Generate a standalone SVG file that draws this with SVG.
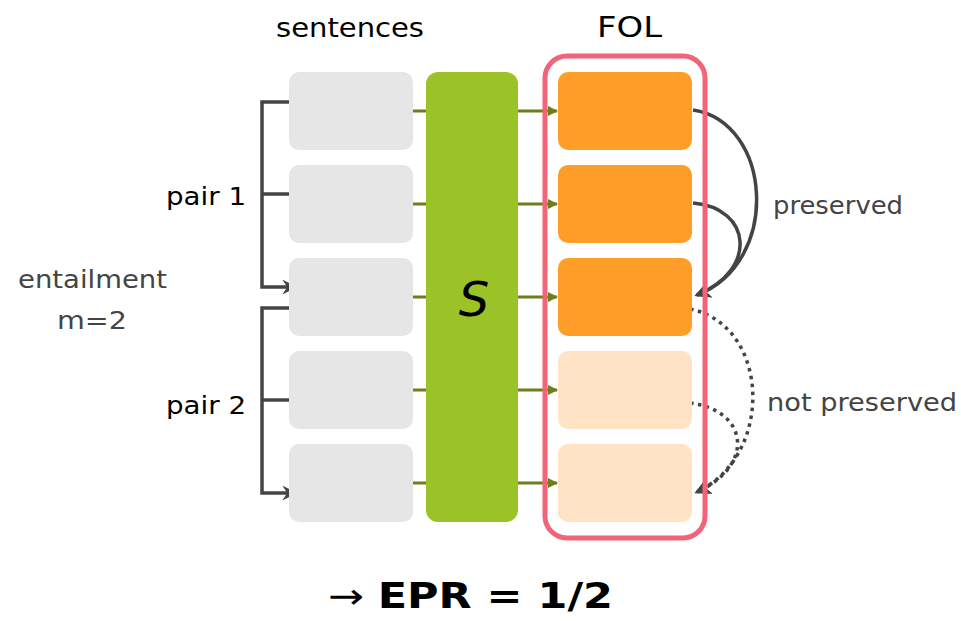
<svg xmlns="http://www.w3.org/2000/svg" width="961" height="621" viewBox="0 0 961 621">
  <style>
    .lbl { font-family: "DejaVu Sans", "Noto Sans", sans-serif; }
    .sent { fill: #e6e6e6; }
    .fol { fill: #fe9e28; }
    .fol-weak { fill: #ffe3c4; }
    .feed { stroke: #6b7f1a; stroke-width: 3; fill: none; }
    .brk { stroke: #444; stroke-width: 3.5; fill: none; }
    .arc { stroke: #444; stroke-width: 3.5; fill: none; }
    .dot { stroke-dasharray: 3.5 4.5; }
  </style>
  <defs>
    <marker id="olive" viewBox="0 0 10 10" refX="9" refY="5" markerWidth="10" markerHeight="10" markerUnits="userSpaceOnUse" orient="auto">
      <path d="M0,0 L10,5 L0,10 Z" fill="#6b7f1a"/>
    </marker>
    <marker id="dark" viewBox="0 0 12 12" refX="11" refY="6" markerWidth="15" markerHeight="15" markerUnits="userSpaceOnUse" orient="auto">
      <path d="M0,0 L12,6 L0,12 L4,6 Z" fill="#444"/>
    </marker>
    <marker id="darkBig" viewBox="0 0 12 12" refX="10" refY="6" markerWidth="16" markerHeight="16" markerUnits="userSpaceOnUse" orient="auto">
      <path d="M0,0 L12,6 L0,12 L3,6 Z" fill="#444"/>
    </marker>
  </defs>

  <rect width="961" height="621" fill="#fff"/>

  <!-- column headings -->
  <text class="lbl" x="276" y="37" font-size="27" textLength="148" lengthAdjust="spacingAndGlyphs" fill="#000">sentences</text>
  <text class="lbl" x="597" y="37" font-size="29" textLength="65" lengthAdjust="spacingAndGlyphs" fill="#000">FOL</text>

  <!-- connectors -->
  <g id="connectors">
    <g id="brackets">
      <path class="brk" d="M289,102 H262 V287 H296" marker-end="url(#dark)"/>
      <path class="brk" d="M262,194 H289"/>
      <path class="brk" d="M289,308 H262 V493 H296" marker-end="url(#dark)"/>
      <path class="brk" d="M262,400 H289"/>
    </g>
    <g id="feeds">
      <line class="feed" x1="413" y1="111" x2="426" y2="111"/>
      <line class="feed" x1="413" y1="204" x2="426" y2="204"/>
      <line class="feed" x1="413" y1="297" x2="426" y2="297"/>
      <line class="feed" x1="413" y1="390" x2="426" y2="390"/>
      <line class="feed" x1="413" y1="483" x2="426" y2="483"/>
      <line class="feed" x1="518" y1="111" x2="557" y2="111" marker-end="url(#olive)"/>
      <line class="feed" x1="518" y1="204" x2="557" y2="204" marker-end="url(#olive)"/>
      <line class="feed" x1="518" y1="297" x2="557" y2="297" marker-end="url(#olive)"/>
      <line class="feed" x1="518" y1="390" x2="557" y2="390" marker-end="url(#olive)"/>
      <line class="feed" x1="518" y1="483" x2="557" y2="483" marker-end="url(#olive)"/>
    </g>
    <g id="arcs">
      <path class="arc" d="M693,110 C772,122 782,262 697,295" marker-end="url(#darkBig)"/>
      <path class="arc" d="M693,203 C752,208 758,270 697,295" marker-end="url(#darkBig)"/>
      <path class="arc dot" d="M690,309 C770,325 775,455 697,492" marker-end="url(#darkBig)"/>
      <path class="arc dot" d="M690,403 C748,410 756,465 697,492" marker-end="url(#darkBig)"/>
    </g>
  </g>

  <!-- sentence boxes -->
  <g id="sentences">
    <rect id="s1" class="sent" x="289" y="72" width="124" height="78" rx="10"/>
    <rect id="s2" class="sent" x="289" y="165" width="124" height="78" rx="10"/>
    <rect id="s3" class="sent" x="289" y="258" width="124" height="78" rx="10"/>
    <rect id="s4" class="sent" x="289" y="351" width="124" height="78" rx="10"/>
    <rect id="s5" class="sent" x="289" y="444" width="124" height="78" rx="10"/>
  </g>

  <!-- translator -->
  <g id="translator">
    <rect x="426" y="72" width="92" height="450" rx="12" fill="#9bc227"/>
    <text class="lbl" x="474" y="316" font-size="48" font-style="italic" text-anchor="middle" fill="#000">S</text>
  </g>

  <!-- FOL group -->
  <g id="fol-frame">
    <rect x="545" y="56" width="160" height="482" rx="22" fill="none" stroke="#f26478" stroke-width="5"/>
  </g>
  <g id="fol">
    <rect id="f1" class="fol" x="558" y="72" width="134" height="78" rx="10"/>
    <rect id="f2" class="fol" x="558" y="165" width="134" height="78" rx="10"/>
    <rect id="f3" class="fol" x="558" y="258" width="134" height="78" rx="10"/>
    <rect id="f4" class="fol-weak" x="558" y="351" width="134" height="78" rx="10"/>
    <rect id="f5" class="fol-weak" x="558" y="444" width="134" height="78" rx="10"/>
  </g>

  <!-- labels -->
  <g id="labels">
    <text class="lbl" x="166" y="205" font-size="25" textLength="80" lengthAdjust="spacingAndGlyphs" fill="#000">pair 1</text>
    <text class="lbl" x="166" y="414" font-size="25" textLength="80" lengthAdjust="spacingAndGlyphs" fill="#000">pair 2</text>
    <text class="lbl" x="18" y="288" font-size="25" textLength="149" lengthAdjust="spacingAndGlyphs" fill="#444">entailment</text>
    <text class="lbl" x="57" y="329" font-size="25" textLength="70" lengthAdjust="spacingAndGlyphs" fill="#444">m=2</text>
    <text class="lbl" x="773" y="214" font-size="25" textLength="130" lengthAdjust="spacingAndGlyphs" fill="#444">preserved</text>
    <text class="lbl" x="767" y="411" font-size="25" textLength="190" lengthAdjust="spacingAndGlyphs" fill="#444">not preserved</text>
  </g>

  <text class="lbl" x="328" y="608" font-size="35" fill="#000" textLength="285" lengthAdjust="spacingAndGlyphs">→ <tspan font-weight="bold">EPR = 1/2</tspan></text>
</svg>
